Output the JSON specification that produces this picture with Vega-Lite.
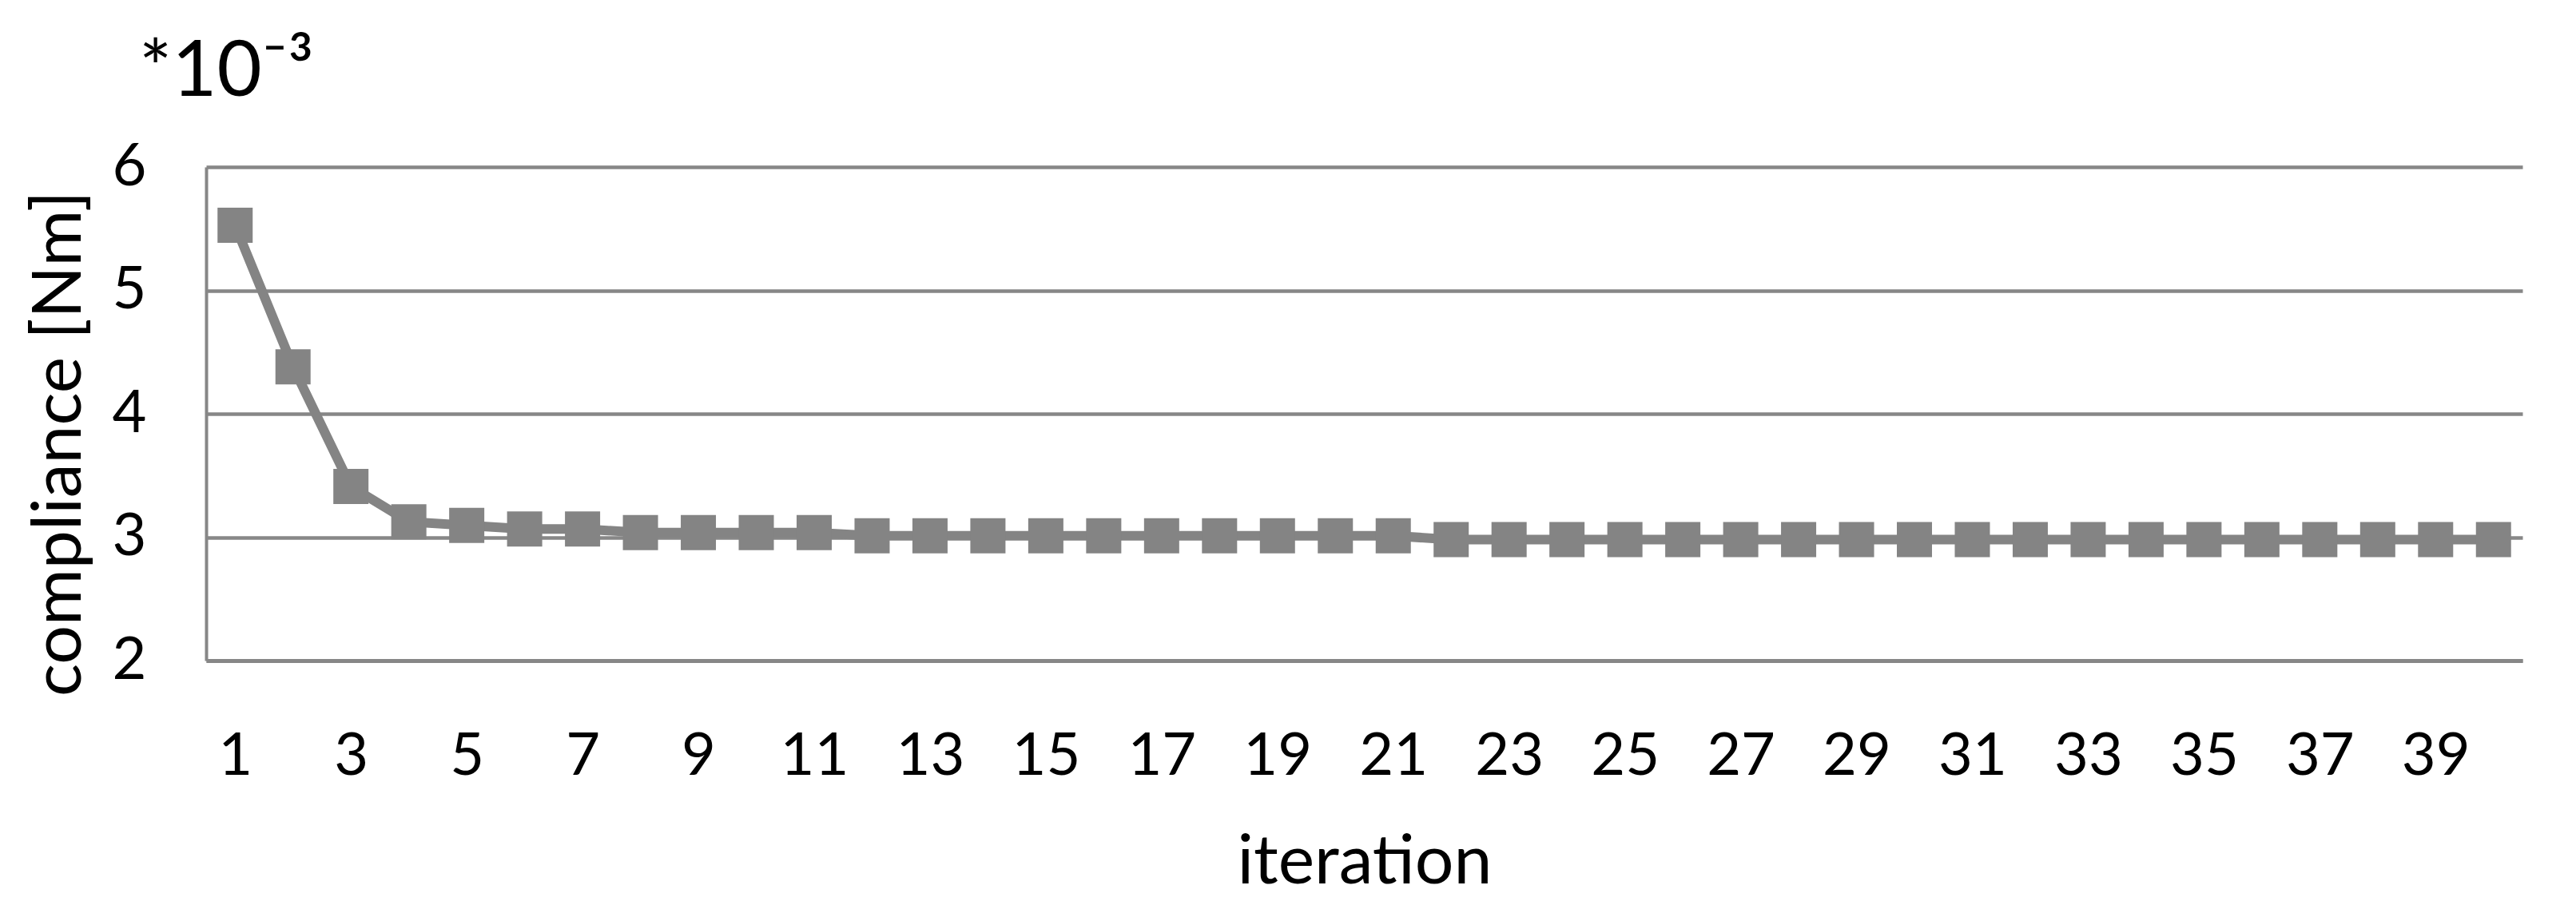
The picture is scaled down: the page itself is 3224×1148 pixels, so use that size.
{
  "$schema": "https://vega.github.io/schema/vega-lite/v6.json",
  "autosize": {"type": "none"},
  "padding": {"left": 258, "top": 209, "right": 67, "bottom": 321},
  "width": 2899,
  "height": 618,
  "background": "white",
  "title": {
    "text": "*10⁻³",
    "anchor": "start",
    "frame": "group",
    "font": "Lato",
    "fontSize": 97,
    "fontWeight": "normal",
    "color": "black",
    "baseline": "alphabetic",
    "offset": 0,
    "dx": -84,
    "dy": 45
  },
  "data": {
    "values": [
      {"iteration": 1, "compliance": 5.527},
      {"iteration": 2, "compliance": 4.381},
      {"iteration": 3, "compliance": 3.411},
      {"iteration": 4, "compliance": 3.125},
      {"iteration": 5, "compliance": 3.095},
      {"iteration": 6, "compliance": 3.066},
      {"iteration": 7, "compliance": 3.066},
      {"iteration": 8, "compliance": 3.037},
      {"iteration": 9, "compliance": 3.037},
      {"iteration": 10, "compliance": 3.037},
      {"iteration": 11, "compliance": 3.037},
      {"iteration": 12, "compliance": 3.012},
      {"iteration": 13, "compliance": 3.012},
      {"iteration": 14, "compliance": 3.012},
      {"iteration": 15, "compliance": 3.012},
      {"iteration": 16, "compliance": 3.012},
      {"iteration": 17, "compliance": 3.012},
      {"iteration": 18, "compliance": 3.012},
      {"iteration": 19, "compliance": 3.012},
      {"iteration": 20, "compliance": 3.012},
      {"iteration": 21, "compliance": 3.012},
      {"iteration": 22, "compliance": 2.98},
      {"iteration": 23, "compliance": 2.98},
      {"iteration": 24, "compliance": 2.98},
      {"iteration": 25, "compliance": 2.98},
      {"iteration": 26, "compliance": 2.98},
      {"iteration": 27, "compliance": 2.98},
      {"iteration": 28, "compliance": 2.98},
      {"iteration": 29, "compliance": 2.98},
      {"iteration": 30, "compliance": 2.98},
      {"iteration": 31, "compliance": 2.98},
      {"iteration": 32, "compliance": 2.98},
      {"iteration": 33, "compliance": 2.98},
      {"iteration": 34, "compliance": 2.98},
      {"iteration": 35, "compliance": 2.98},
      {"iteration": 36, "compliance": 2.98},
      {"iteration": 37, "compliance": 2.98},
      {"iteration": 38, "compliance": 2.98},
      {"iteration": 39, "compliance": 2.98},
      {"iteration": 40, "compliance": 2.98}
    ]
  },
  "encoding": {
    "x": {
      "field": "iteration",
      "type": "quantitative",
      "scale": {"domain": [0.5, 40.5], "nice": false, "zero": false},
      "axis": {
        "title": "iteration",
        "values": [1, 3, 5, 7, 9, 11, 13, 15, 17, 19, 21, 23, 25, 27, 29, 31, 33, 35, 37, 39],
        "grid": false,
        "ticks": false,
        "tickSize": 0,
        "domain": true,
        "domainColor": "#878787",
        "domainWidth": 5,
        "labelFont": "Lato",
        "labelFontSize": 74,
        "labelColor": "black",
        "labelPadding": 84,
        "labelFlush": false,
        "labelOverlap": false,
        "titleFont": "Lato",
        "titleFontSize": 86,
        "titleFontWeight": "normal",
        "titleColor": "black",
        "titleBaseline": "alphabetic",
        "titleY": 278
      }
    },
    "y": {
      "field": "compliance",
      "type": "quantitative",
      "scale": {"domain": [2, 6], "nice": false, "zero": false},
      "axis": {
        "title": "compliance [Nm]",
        "values": [2, 3, 4, 5, 6],
        "grid": true,
        "gridColor": "#878787",
        "gridWidth": 4.5,
        "ticks": false,
        "tickSize": 0,
        "domain": true,
        "domainColor": "#878787",
        "domainWidth": 4,
        "labelFont": "Lato",
        "labelFontSize": 74,
        "labelColor": "black",
        "labelPadding": 75,
        "labelFlush": false,
        "labelOverlap": false,
        "titleFont": "Lato",
        "titleFontSize": 86,
        "titleFontWeight": "normal",
        "titleColor": "black",
        "titleBaseline": "alphabetic",
        "titleAlign": "center",
        "titleAngle": -90,
        "titleX": -158,
        "titleY": 346
      }
    }
  },
  "layer": [
    {"mark": {"type": "line", "color": "#848484", "strokeWidth": 12}},
    {"mark": {"type": "point", "shape": "square", "filled": true, "size": 1936, "color": "#848484", "opacity": 1}}
  ],
  "config": {"view": {"stroke": null}}
}
